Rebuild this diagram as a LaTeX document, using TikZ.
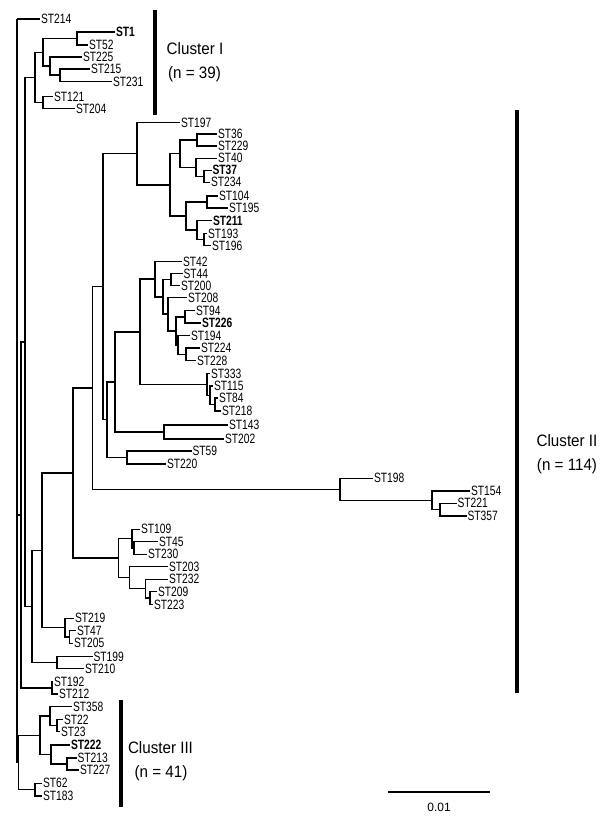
\documentclass[tikz,border=0pt]{standalone}
\usepackage{fontspec}
\newfontfamily\leaffont[FakeStretch=0.76]{Liberation Sans}
\newfontfamily\clusterfont[FakeStretch=0.92]{Liberation Sans}
\newfontfamily\scalefont{Liberation Sans}
\begin{document}
\begin{tikzpicture}[x=1pt,y=-1pt,
  branch/.style={line width=1.5pt, line join=miter},
  leaf/.style={anchor=west, inner xsep=1pt, inner ysep=0pt, outer sep=0pt, font=\leaffont\fontsize{13.5}{15}\selectfont},
  bleaf/.style={leaf, font=\leaffont\bfseries\fontsize{13.5}{15}\selectfont},
  clbar/.style={line width=3.3pt},
  cltext/.style={anchor=base, inner sep=0pt, font=\clusterfont\fontsize{16.5}{20}\selectfont},
  scalebar/.style={line width=1.6pt},
  scaletext/.style={inner sep=0pt, font=\scalefont\fontsize{12}{14}\selectfont}]
\fill[white] (0,0) rectangle (600,824);
\useasboundingbox (0,0) rectangle (600,824);
% leaves
\foreach \n/\x/\y in {ST214/40/19, ST52/88/45, ST225/82/57, ST215/90/69, ST231/112/81.5,
  ST121/53/96.5, ST204/75/108.5, ST197/180/122.5, ST36/217/134, ST229/217/146, ST40/217/158.3,
  ST234/210/182.3, ST104/218/196, ST195/228/208, ST193/207/233.5, ST196/211/245.5,
  ST42/182/261.5, ST44/182.5/273.5, ST200/180/285.5, ST208/187/297.5, ST94/195/310.5,
  ST194/190/335.5, ST224/200/348, ST228/196/360.5, ST333/210/373.5, ST115/213/386,
  ST84/218/398, ST218/221/411, ST143/228/425, ST202/224/439, ST59/191.5/451, ST220/166/464,
  ST198/373/478.3, ST154/470/491, ST221/456.5/503.3, ST357/466.5/516,
  ST109/140/529.3, ST45/158/541.7, ST230/147/554.3, ST203/168/566.7, ST232/168/579.3,
  ST209/157/591.7, ST223/153/604.5, ST219/74/618.3, ST47/76/630.7, ST205/73/643.3,
  ST199/92.5/656.5, ST210/84/668.5, ST192/53/681.7, ST212/58/694, ST358/72/706.7,
  ST22/63/719.5, ST23/60/731.7, ST213/76.5/758, ST227/79/770, ST62/42/783.3, ST183/42/796}
  \node[leaf] (\n) at (\x,\y) {\n};
\foreach \n/\x/\y in {ST1/115/32, ST37/211.5/170.3, ST211/212/220.5, ST226/201/323, ST222/70/745}
  \node[bleaf] (\n) at (\x,\y) {\n};
% internal nodes
\foreach \n/\x/\y in {c1/77/38.5, c5/60/75.25, c4/50/66.1, c2/43/52.3, c6/43/102.5, c7/35/77.4,
  d1/197/140, d2/204/176.3, d3/196/167.3, d4/180/153.6, d5/207/202, d6/204/239.5,
  d7/197/230, d8/186/216, d9/170/184.8, d10/137/153.7,
  e1/171/279.5, e2/185/316.75, e3/186/354.25, e4/178/344.9, e5/176/330.8, e6/168/314.2,
  e7/163/296.8, e8/155/279.2, f3/215/404.5, f2/210/395.25, f1/207/384.4, e9/140/331.8,
  g1/164/432, e10/115/381.9, g2/127/457.5, e11/107/419.7, e12/103/286.7,
  h3/440/509.65, h2/432/500.3, h1/340/489.3, e13/92.7/388,
  p1/134/548, p2/132/538.65, q1/150/598.1, q2/145.7/588.7, q3/129.3/577.7, p3/118.3/558.2,
  k2/73/473.1, r1/69.5/637, r2/65/627.65, k1/42/550.4, t1/57/662.5, k3/32/606.45,
  k4/25/341.9, u1/52/687.85, k5/21/514.9,
  s1/57/725.6, s2/50/716.15, s3/67/764, s4/51/754.5, s5/40/735.3, s6/35/789.65, s7/18.3/762.5,
  root/17/19}
  \coordinate (\n) at (\x,\y);
% branches
\foreach \p/\c in {root/ST214, root/k5, root/s7, k5/k4, k5/u1, k4/c7, k4/k3,
  c7/c2, c7/c6, c2/c1, c2/c4, c1/ST1, c1/ST52, c4/ST225, c4/c5, c5/ST215, c5/ST231,
  c6/ST121, c6/ST204, k3/k1, k3/t1, k1/k2, k1/r2, k2/e13, k2/p3, e13/e12, e13/h1,
  e12/d10, e12/e11, d10/ST197, d10/d9, d9/d4, d9/d8, d4/d1, d4/d3, d1/ST36, d1/ST229,
  d3/ST40, d3/d2, d2/ST37, d2/ST234, d8/d5, d8/d7, d5/ST104, d5/ST195, d7/ST211, d7/d6,
  d6/ST193, d6/ST196, e11/e10, e11/g2, e10/e9, e10/g1, e9/e8, e9/f1, e8/ST42, e8/e7,
  e7/e1, e7/e6, e1/ST44, e1/ST200, e6/ST208, e6/e5, e5/e2, e5/e4, e2/ST94, e2/ST226,
  e4/ST194, e4/e3, e3/ST224, e3/ST228, f1/ST333, f1/f2, f2/ST115, f2/f3, f3/ST84, f3/ST218,
  g1/ST143, g1/ST202, g2/ST59, g2/ST220, h1/ST198, h1/h2, h2/ST154, h2/h3, h3/ST221, h3/ST357,
  p3/p2, p3/q3, p2/ST109, p2/p1, p1/ST45, p1/ST230, q3/ST203, q3/q2, q2/ST232, q2/q1,
  q1/ST209, q1/ST223, r2/ST219, r2/r1, r1/ST47, r1/ST205, t1/ST199, t1/ST210,
  u1/ST192, u1/ST212, s7/s5, s7/s6, s5/s2, s5/s4, s2/ST358, s2/s1, s1/ST22, s1/ST23,
  s4/ST222, s4/s3, s3/ST213, s3/ST227, s6/ST62, s6/ST183}
  \draw[branch] (\p) |- (\c);
% cluster bars and labels
\draw[clbar] (155,10) -- (155,115);
\node[cltext] (cl1a) at (195,55) {Cluster I};
\node[cltext] (cl1b) at (194.5,79) {(n = 39)};
\draw[clbar] (517,110) -- (517,693);
\node[cltext] (cl2a) at (567,446) {Cluster II};
\node[cltext] (cl2b) at (567,470) {(n = 114)};
\draw[clbar] (121,700) -- (121,807);
\node[cltext] (cl3a) at (160.5,753) {Cluster III};
\node[cltext] (cl3b) at (161,777) {(n = 41)};
% scale bar
\coordinate (sbl) at (388,792);
\coordinate (sbr) at (490,792);
\draw[scalebar] (sbl) -- (sbr);
\node[scaletext] (sbt) at (439,807.5) {0.01};
\end{tikzpicture}
\end{document}
